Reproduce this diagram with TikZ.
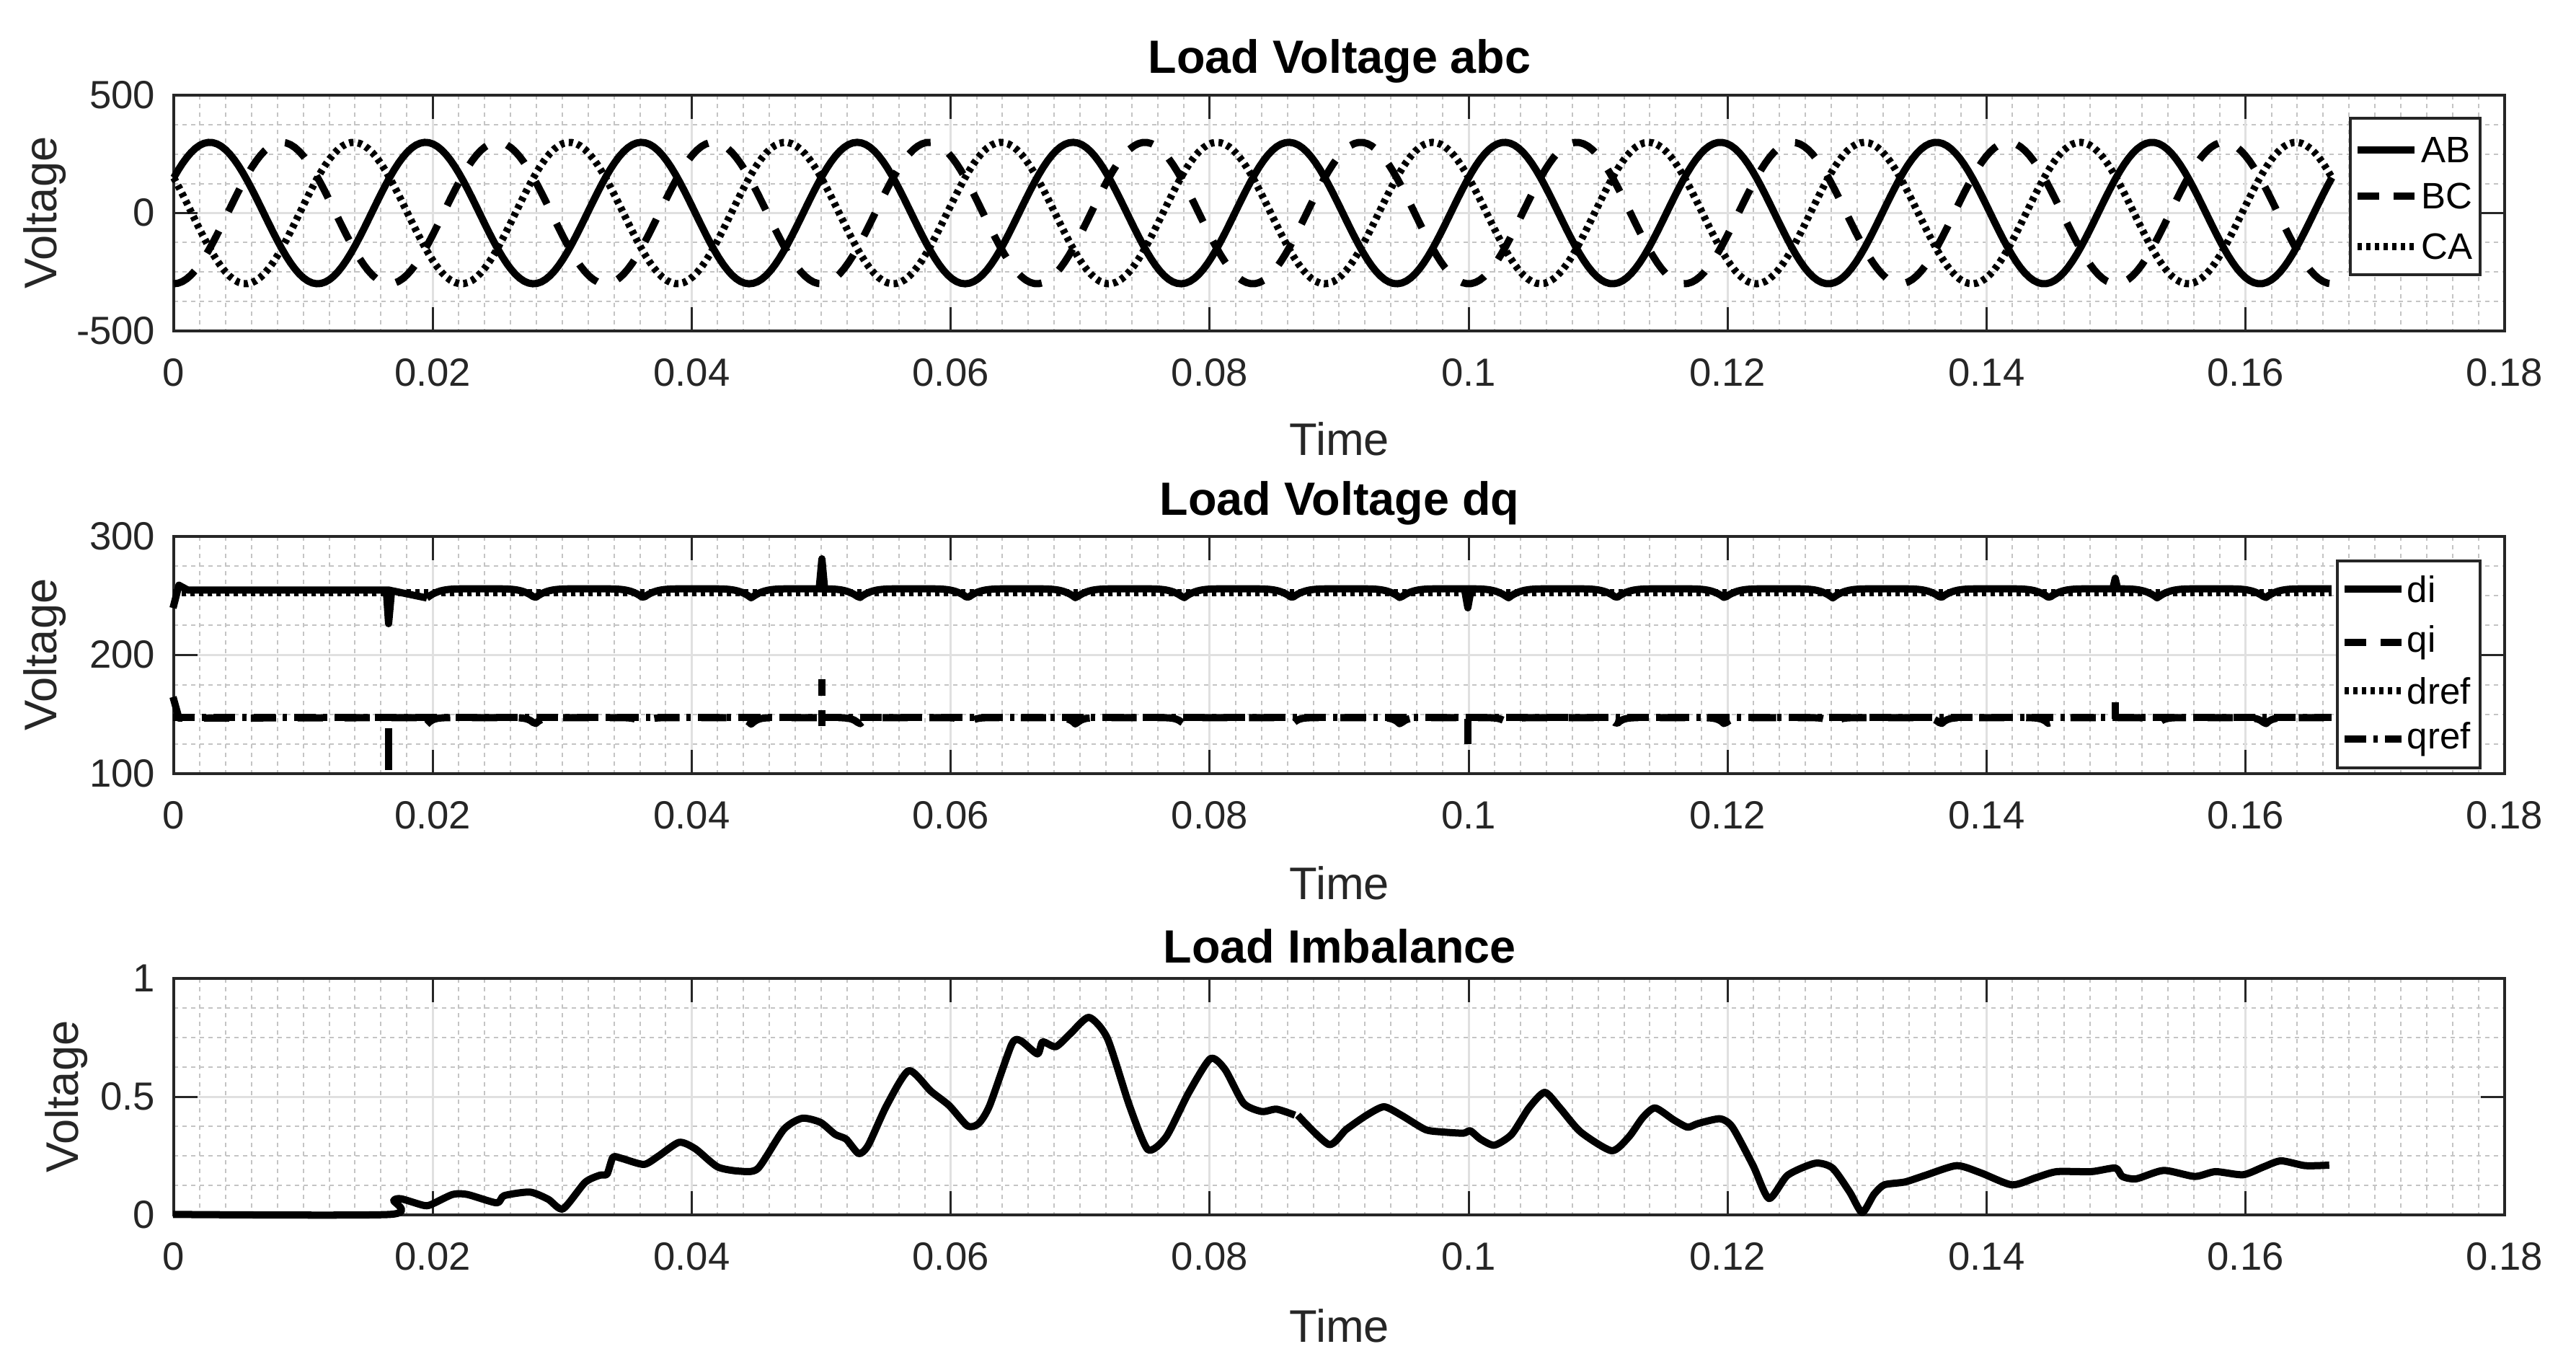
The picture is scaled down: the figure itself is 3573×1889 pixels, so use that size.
\documentclass[tikz,border=0pt]{standalone}
\usepackage{fontspec}
\setmainfont{Liberation Sans}
\definecolor{axisgray}{HTML}{262626}
\definecolor{minorgray}{HTML}{C4C4C4}
\definecolor{majorgray}{HTML}{E0E0E0}
\tikzset{
  frame/.style={draw=axisgray, line width=0.04cm},
  minor grid/.style={draw=minorgray, line width=0.02cm, dash pattern=on 0.06cm off 0.06cm},
  major grid/.style={draw=majorgray, line width=0.03cm},
  tick/.style={draw=axisgray, line width=0.03cm},
  ticklabel/.style={text=axisgray, font=\fontsize{15.5}{18}\selectfont, inner sep=0pt},
  axlabel/.style={text=axisgray, font=\fontsize{18}{21}\selectfont, inner sep=0pt},
  plottitle/.style={text=black, font=\bfseries\fontsize{18.4}{22}\selectfont, inner sep=0pt},
  legtext/.style={text=black, font=\fontsize{14.5}{17}\selectfont, inner sep=0pt, anchor=west},
  data/.style={line width=0.1cm, line join=round},
  solidline/.style={data},
  dashline/.style={data, dash pattern=on 0.35cm off 0.3cm},
  dotline/.style={data, dash pattern=on 0.06cm off 0.06cm},
  dashdotline/.style={data, dash pattern=on 0.3cm off 0.1cm on 0.06cm off 0.1cm},
}
\begin{document}
\begin{tikzpicture}[x=0.01cm, y=-0.01cm]
\useasboundingbox (0,0) rectangle (3573,1889);

% panels: grid, frame, ticks
\foreach \T/\B in {132/459, 744/1073, 1357/1685}{
  \foreach \i in {1,...,89}
    \draw[minor grid] ({241+\i*35.92},\T) -- ({241+\i*35.92},\B);
  \foreach \j in {1,...,7}
    \draw[minor grid] (241,{\T+\j*(\B-\T)/8}) -- (3474,{\T+\j*(\B-\T)/8});
  \foreach \i in {1,...,8}
    \draw[major grid] ({241+\i*359.2},\T) -- ({241+\i*359.2},\B);
  \draw[major grid] (241,{(\T+\B)/2}) -- (3474,{(\T+\B)/2});
  \draw[frame] (241,\T) rectangle (3474,\B);
  \foreach \i in {1,...,8}{
    \draw[tick] ({241+\i*359.2},\B) -- ({241+\i*359.2},\B-33);
    \draw[tick] ({241+\i*359.2},\T) -- ({241+\i*359.2},\T+33);
  }
  \draw[tick] (241,{(\T+\B)/2}) -- (274,{(\T+\B)/2});
  \draw[tick] (3474,{(\T+\B)/2}) -- (3441,{(\T+\B)/2});
  \foreach \lab [count=\i from 0] in {0,0.02,0.04,0.06,0.08,0.1,0.12,0.14,0.16,0.18}
    \node[ticklabel, anchor=north] (xt\i) at ({241+\i*359.2},\B+38) {\lab};
}

% y tick labels
\node[ticklabel, anchor=east] (ya1) at (216,132) {500};
\node[ticklabel, anchor=east] (ya2) at (216,295) {0};
\node[ticklabel, anchor=east] (ya3) at (216,459) {-500};
\node[ticklabel, anchor=east] (yb1) at (216,744) {300};
\node[ticklabel, anchor=east] (yb2) at (216,908) {200};
\node[ticklabel, anchor=east] (yb3) at (216,1073) {100};
\node[ticklabel, anchor=east] (yc1) at (216,1357) {1};
\node[ticklabel, anchor=east] (yc2) at (216,1521) {0.5};
\node[ticklabel, anchor=east] (yc3) at (216,1685) {0};

% titles and axis labels
\node[plottitle] (tabc) at (1858,85) {Load Voltage abc};
\node[plottitle] (tdq) at (1858,698) {Load Voltage dq};
\node[plottitle] (timb) at (1858,1312) {Load Imbalance};
\node[axlabel] (xabc) at (1858,609) {Time};
\node[axlabel] (xdq) at (1858,1225) {Time};
\node[axlabel] (ximb) at (1858,1839) {Time};
\node[axlabel, rotate=90] (yabc) at (62,295) {Voltage};
\node[axlabel, rotate=90] (ydq) at (62,908) {Voltage};
\node[axlabel, rotate=90] (yimb) at (92,1521) {Voltage};

% Load Voltage abc (parameter in degrees, 10 cycles)
\draw[solidline] plot[domain=0:3600, samples=500]
  ({241+0.8315*\x}, {295.5-98.1*sin(\x+30)});
\draw[dashline] plot[domain=0:3600, samples=500]
  ({241+0.8315*\x}, {295.5-98.1*sin(\x-90)});
\draw[dotline] plot[domain=0:3600, samples=500]
  ({241+0.8315*\x}, {295.5-98.1*sin(\x+150)});

\draw[frame, fill=white] (3260,164) rectangle (3440,381);
\draw[solidline] (3270,208) -- (3349,208);
\draw[dashline, dash pattern=on 0.3cm off 0.2cm] (3270,272) -- (3349,272);
\draw[dotline] (3270,342) -- (3349,342);
\node[legtext] (lab) at (3358,208) {AB};
\node[legtext] (lbc) at (3358,272) {BC};
\node[legtext] (lca) at (3358,342) {CA};

% Load Voltage dq (parameter in degrees, one dip per 180)
\begin{scope}[shift={(240,740)}, xscale=1.0204, yscale=0.3333]
  \draw[dotline] (0,245) -- (2934,245);
  \draw[solidline] (0,310) -- (8,215) -- (20,235) -- (293,235) -- (345,268);
  \draw[solidline] plot[domain=0:3170, samples=700]
    ({345+0.8167*\x}, {230+38*(1-abs(sin(\x)))^3});
  \draw[solidline] (290,240) -- (293,375) -- (297,240);
  \draw[solidline] (878,240) -- (882,105) -- (886,240);
  \draw[solidline] (1756,240) -- (1760,309) -- (1764,240);
  \draw[solidline] (2636,240) -- (2640,186) -- (2644,240);
  \draw[dashdotline] (0,765) -- (2934,765);
  \draw[dashline] (0,680) -- (8,768) -- (345,766);
  \draw[dashline] plot[domain=0:3170, samples=700]
    ({345+0.8167*\x}, {766+28*(1-abs(sin(\x)))^6});
  \draw[solidline] (293,810) -- (293,985);
  \draw[solidline] (882,605) -- (882,675);
  \draw[solidline] (882,735) -- (882,800);
  \draw[solidline] (1760,770) -- (1760,876);
  \draw[solidline] (2640,770) -- (2640,702);
\end{scope}

\draw[frame, fill=white] (3242,778) rectangle (3440,1065);
\draw[solidline] (3252,817) -- (3331,817);
\draw[dashline, dash pattern=on 0.3cm off 0.2cm] (3252,891) -- (3331,891);
\draw[dotline] (3252,958) -- (3331,958);
\draw[dashdotline] (3252,1025) -- (3331,1025);
\node[legtext] (ldi) at (3338,817) {di};
\node[legtext] (lqi) at (3338,891) {qi};
\node[legtext] (ldref) at (3338,958) {dref};
\node[legtext] (lqref) at (3338,1025) {qref};

% Load Imbalance
\begin{scope}[shift={(240,1350)}, xscale=1.0204, yscale=0.3333]
  \draw[solidline] plot[smooth, tension=0.4] coordinates {
    (0,1003) (295,1003) (300,945) (310,938) (340,965) (350,963) (380,920)
    (400,920) (440,955) (450,925) (485,910) (510,940) (530,980) (560,870)
    (580,840) (590,835) (598,765) (610,770) (640,795) (660,760) (688,703)
    (710,730) (740,805) (770,823) (795,812) (830,650) (855,603) (880,620)
    (900,670) (915,690) (932,750) (945,715) (970,550) (1000,405) (1030,490)
    (1055,550) (1080,635) (1095,625) (1110,550) (1140,295) (1152,280)
    (1175,335) (1182,285) (1200,305) (1220,250) (1245,183) (1270,270)
    (1300,550) (1325,733) (1350,680) (1380,500) (1410,355) (1430,400)
    (1455,540) (1480,575) (1500,565) (1525,590)};
\end{scope}
\begin{scope}[shift={(1800,1350)}, xscale=0.957, yscale=0.3333]
  \draw[solidline] plot[smooth, tension=0.4] coordinates {
    (0,590) (45,712) (70,650) (100,590) (125,555) (150,590) (185,650)
    (210,660) (240,665) (250,655) (265,690) (285,715) (310,670) (335,560)
    (358,495) (380,560) (410,660) (455,738) (480,680) (500,600) (518,560)
    (545,610) (565,640) (580,625) (612,605) (630,640) (660,800) (683,937)
    (710,840) (750,790) (775,810) (800,910) (818,995) (835,920) (850,880)
    (880,868) (910,840) (955,800) (990,830) (1035,880) (1070,850)
    (1100,825) (1150,825) (1185,810) (1195,845) (1215,855) (1255,820)
    (1300,845) (1330,825) (1370,838) (1400,805) (1425,780) (1460,800)
    (1495,798)};
\end{scope}
\end{tikzpicture}
\end{document}
